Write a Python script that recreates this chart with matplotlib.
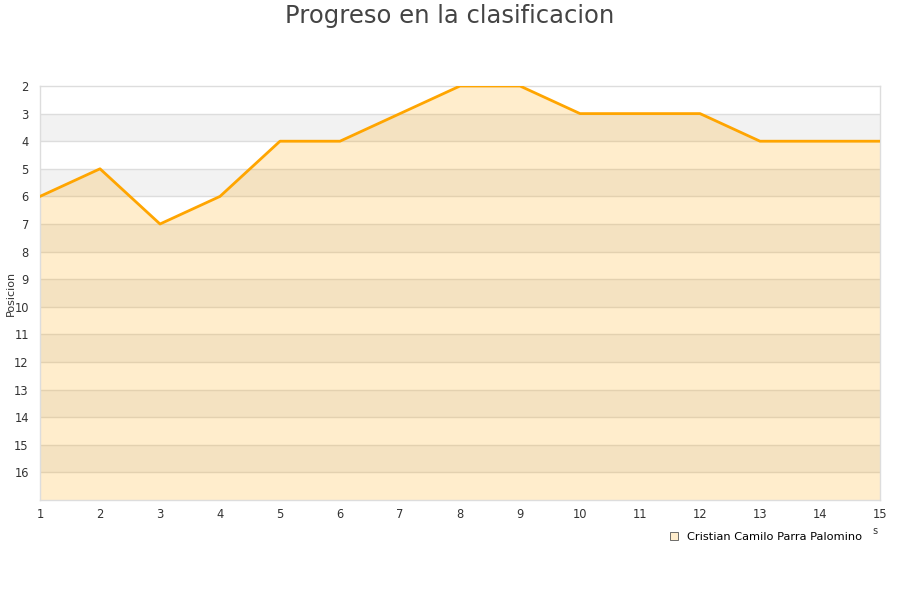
import matplotlib
matplotlib.use("Agg")
import matplotlib.pyplot as plt
from matplotlib.patches import Patch

jornadas = list(range(1, 16))
posicion = [6, 5, 7, 6, 4, 4, 3, 2, 2, 3, 3, 3, 4, 4, 4]
y_ticks = list(range(2, 17))
series_name = "Cristian Camilo Parra Palomino"
title = "Progreso en la clasificacion"
ylabel = "Posicion"

fig = plt.figure(figsize=(9, 6), dpi=100)
ax = fig.add_axes([40/900, 1-500/600, 840/900, 414/600])

ymin, ymax = 2, 17
# alternating bands
for k in range(ymin, ymax):
    if (k - ymin) % 2 == 1:
        ax.axhspan(k, k+1, color="#f2f2f2", zorder=0, lw=0)
for k in y_ticks[1:]:
    ax.axhline(k, color="#dddddd", lw=1, zorder=1)

ax.fill_between(jornadas, posicion, ymax, color="#ffa500", alpha=0.2, lw=0, zorder=2)
ax.plot(jornadas, posicion, color="#ffa500", lw=2, zorder=3)

ax.set_xlim(1, 15)
ax.set_ylim(ymax, ymin)
ax.set_xticks(jornadas)
ax.set_yticks(y_ticks)
ax.tick_params(axis="both", length=0, labelsize=8.3, colors="#333333")
ax.tick_params(axis="x", pad=6)
ax.tick_params(axis="y", pad=8)
for s in ["left", "top", "right", "bottom"]:
    ax.spines[s].set_color("#dddddd")
    ax.spines[s].set_linewidth(1)

fig.text(11/900, 1-293/600, ylabel, rotation=90, fontsize=8, color="#333333",
         ha="center", va="center")
fig.text(0.5, 1-16/600, title, ha="center", va="center", fontsize=17.5, color="#444444")

h = Patch(facecolor="#ffedcc", edgecolor="#555555", lw=0.6)
fig.legend([h], [series_name], loc="center", bbox_to_anchor=(766/900, 1-537/600),
           frameon=False, fontsize=8.2, handlelength=0.7, handleheight=0.7, handletextpad=0.8)
fig.text(875/900, 1-531/600, "s", fontsize=7, color="#333333", ha="center", va="center")

fig.savefig("out.png", dpi=100)
